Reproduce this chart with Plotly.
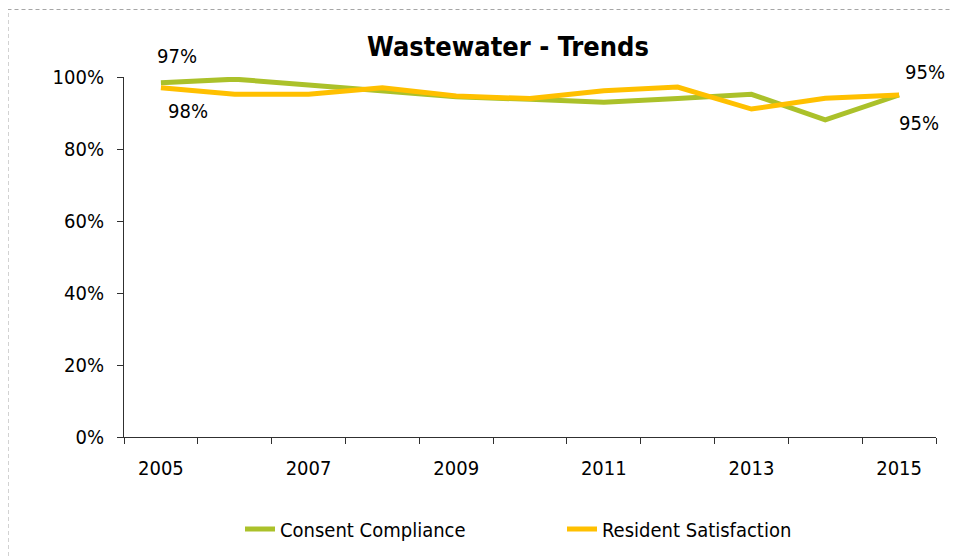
import plotly.graph_objects as go

years = [2005, 2006, 2007, 2008, 2009, 2010, 2011, 2012, 2013, 2014, 2015]
tick_years = [2005, 2007, 2009, 2011, 2013, 2015]
consent_compliance = [98.4, 99.4, 97.8, 96.2, 94.5, 93.8, 93.0, 94.0, 95.2, 88.1, 95.0]
resident_satisfaction = [97.0, 95.2, 95.2, 97.0, 94.7, 94.0, 96.2, 97.2, 91.1, 94.1, 95.0]
y_ticks = [0, 20, 40, 60, 80, 100]

GREEN = "#ABC12A"
YELLOW = "#FFC000"
AXIS = "#303030"
FONT = "DejaVu Sans Condensed, DejaVu Sans, sans-serif"

# page body has an 8px margin; plot area spans page x 124..936, y 77..437
L, T, R, B = 116, 69, 928, 429
W, H = 958, 556

def px_x(x):
    return (x - L) / (R - L)

def px_y(y):
    return (B - y) / (B - T)

fig = go.Figure()
fig.add_trace(go.Scatter(x=years, y=consent_compliance, mode="lines",
                         name="Consent Compliance",
                         line=dict(color=GREEN, width=5)))
fig.add_trace(go.Scatter(x=years, y=resident_satisfaction, mode="lines",
                         name="Resident Satisfaction",
                         line=dict(color=YELLOW, width=5)))

# data labels at first and last points
labels = [
    (years[0], resident_satisfaction[0], 16, 32),
    (years[0], consent_compliance[0], 27, -28),
    (years[-1], resident_satisfaction[-1], 26, 23),
    (years[-1], consent_compliance[-1], 20, -28),
]
for x, y, dx, dy in labels:
    fig.add_annotation(x=x, y=y, xref="x", yref="y", text=f"{round(y)}%",
                       showarrow=False, xshift=dx, yshift=dy,
                       font=dict(family=FONT, size=20, color="black"))

fig.update_layout(
    width=W, height=H,
    margin=dict(l=L, r=W - R, t=T, b=H - B),
    paper_bgcolor="white", plot_bgcolor="white",
    font=dict(family=FONT, size=20, color="black"),
    title=dict(text="<b>Wastewater - Trends</b>", xref="container", x=500 / W,
               xanchor="center", y=1 - 39 / H, yanchor="middle",
               font=dict(family=FONT, size=27, color="black")),
    showlegend=True,
    legend=dict(orientation="h", xanchor="center", x=px_x(554),
                yanchor="middle", y=px_y(521),
                font=dict(family=FONT, size=20, color="black"),
                entrywidth=277),
    xaxis=dict(range=[2004.5, 2015.5], tickvals=tick_years,
               ticktext=[str(t) for t in tick_years], ticks="", ticklen=0,
               ticklabelstandoff=13,
               showline=True, linecolor=AXIS, linewidth=1,
               showgrid=False, zeroline=False,
               minor=dict(tick0=2004.5, dtick=1, ticks="outside", ticklen=6,
                          tickcolor=AXIS, showgrid=False)),
    yaxis=dict(range=[0, 100], tickvals=y_ticks,
               ticktext=[f"{v}%" for v in y_ticks], ticks="outside", ticklen=6,
               ticklabelstandoff=9,
               tickcolor=AXIS, showline=True, linecolor=AXIS,
               linewidth=1, showgrid=False, zeroline=False),
    shapes=[dict(type="rect", xref="paper", yref="paper",
                 x0=px_x(0), x1=px_x(975),
                 y0=px_y(575), y1=px_y(1.5),
                 line=dict(color="#A6A6A6", width=1, dash="4px,3px"),
                 layer="below")],
)

fig.write_html("out.html")
